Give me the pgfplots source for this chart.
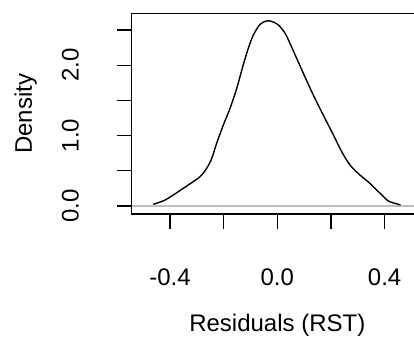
\documentclass[border=0pt]{standalone}
\usepackage{fontspec}
\setmainfont{Liberation Sans}
\usepackage{pgfplots}
\pgfplotsset{compat=1.18}
\definecolor{rgray}{RGB}{190,190,190}
\begin{document}
\begin{tikzpicture}
\begin{axis}[
  name=ax,
  scale only axis, width=291.2pt, height=200.3pt,
  xmin=-0.5425, xmax=0.5425, ymin=-0.1136, ymax=2.731,
  axis line style={line width=1.2pt},
  tick align=outside, major tick length=15pt,
  tick style={line width=1.2pt, black},
  xtick pos=bottom, ytick pos=left,
  xtick={-0.4,-0.2,0,0.2,0.4}, xticklabels={-0.4,,0.0,,0.4},
  ytick={0,0.5,1,1.5,2,2.5}, yticklabels={0.0,,1.0,,2.0,},
  ticklabel style={font=\fontsize{24}{28}\selectfont, inner sep=0pt},
  xticklabel style={anchor=north},
  yticklabel style={rotate=90, anchor=south},
  xticklabel shift=39.3pt, yticklabel shift=37.7pt,
  label style={font=\fontsize{24}{28}\selectfont, inner sep=0pt},
  xlabel={Residuals (RST)}, ylabel={Density},
  xlabel style={at={(axis description cs:0.5,-0.5876)}, anchor=base},
  ylabel style={at={(axis description cs:-0.3424,0.5)}, anchor=base},
]
\addplot[rgray, line width=1.2pt] coordinates {(-0.5425,0) (0.5425,0)};
\addplot[black, line width=1.4pt, smooth, tension=0.5] coordinates {
(-0.462,0.024) (-0.418,0.085) (-0.369,0.203) (-0.332,0.298) (-0.288,0.416)
(-0.263,0.536) (-0.244,0.678) (-0.226,0.891) (-0.201,1.151) (-0.176,1.388)
(-0.151,1.672) (-0.127,2.003) (-0.108,2.240) (-0.089,2.429) (-0.064,2.581)
(-0.039,2.628) (-0.020,2.620) (0.004,2.571) (0.029,2.453) (0.047,2.311)
(0.072,2.098) (0.097,1.885) (0.134,1.577) (0.171,1.293) (0.209,1.009)
(0.240,0.771) (0.271,0.582) (0.308,0.440) (0.345,0.322) (0.383,0.180)
(0.414,0.071) (0.451,0.024) (0.459,0.012)
};
\end{axis}
\pgfresetboundingbox
\path[use as bounding box] ([shift={(-131.7pt,-128pt)}]ax.south west) rectangle ([shift={(282.3pt,214pt)}]ax.south west);
\end{tikzpicture}
\end{document}
